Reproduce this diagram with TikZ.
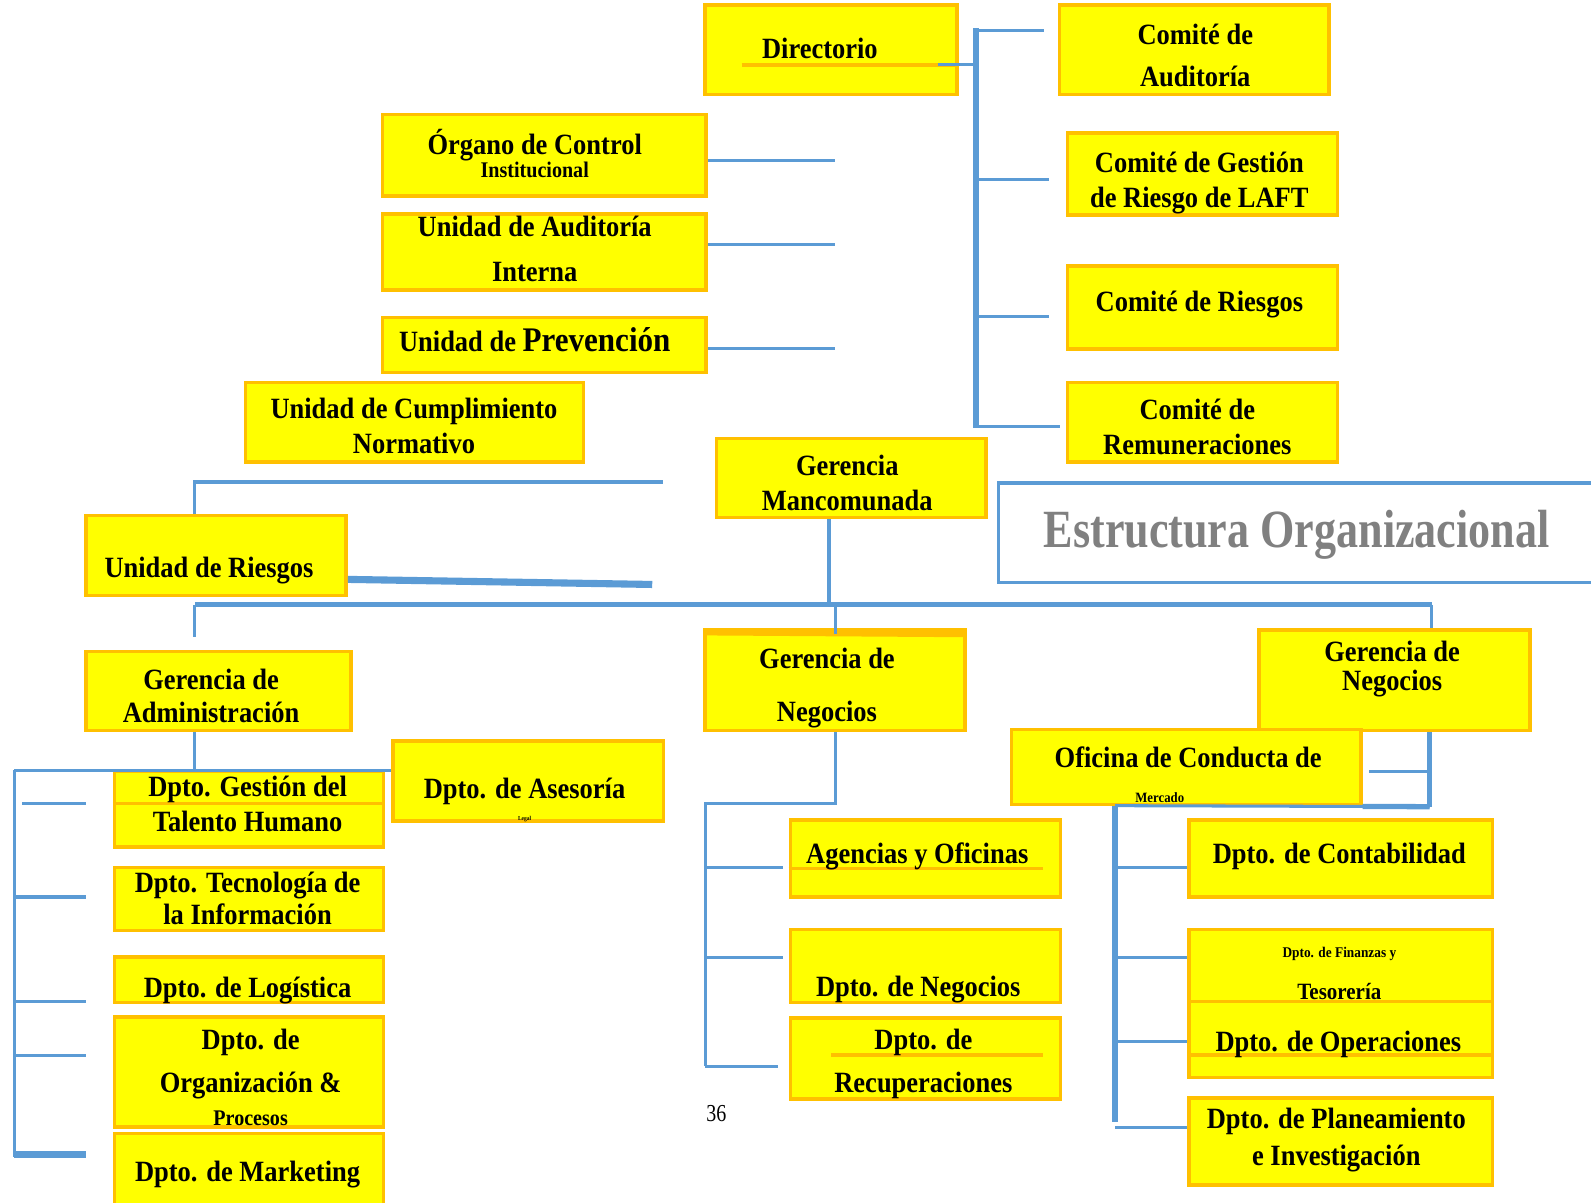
\documentclass[tikz,border=0pt]{standalone}
\usepackage{fontspec}
\setmainfont{Liberation Serif}[FakeStretch=0.9]
\newfontfamily\titulofont{Liberation Serif}[FakeStretch=0.82]
\usetikzlibrary{fit}
\definecolor{amarillo}{HTML}{FFFF00}
\definecolor{naranja}{HTML}{FFC000}
\definecolor{azul}{HTML}{5B9BD5}

\begin{document}
\begin{tikzpicture}[x=0.5pt,y=-0.5pt]
  \tikzstyle{caja}=[draw=naranja,fill=amarillo,line width=1.8pt,inner sep=0pt]
  \tikzstyle{texto}=[font=\bfseries\fontsize{14.5}{17}\selectfont,align=center,inner sep=0pt,yshift=-1.6pt,
    execute at begin node=\strut,execute at end node=\strut]
  \tikzstyle{chico}=[texto,font=\bfseries\fontsize{11}{13}\selectfont]
  \tikzstyle{linea}=[draw=azul,line width=1.5pt]
  \tikzstyle{gruesa}=[linea,line width=2.6pt]
  \useasboundingbox (0,0) rectangle (1568,1185);

  % cajas de arriba
  \node[caja,fit={(695,5) (943,93)}]      (dir)   {};
  \node[caja,fit={(1044,5) (1310,93)}]    (caud)  {};
  \node[caja,fit={(1052,131) (1318,212)}] (claft) {};
  \node[caja,fit={(1052,262) (1318,344)}] (cries) {};
  \node[caja,fit={(1052,377) (1318,455)}] (crem)  {};
  \node[caja,fit={(377,113) (696,193)}]   (oci)   {};
  \node[caja,fit={(377,211) (696,286)}]   (uai)   {};
  \node[caja,fit={(377,313) (696,367)}]   (uprev) {};
  \node[caja,fit={(242,377) (575,455)}]   (ucn)   {};
  \node[caja,fit={(706,432) (972,510)}]   (gman)  {};
  \node[caja,fit={(85,508) (341,587)}]    (uries) {};
  \node[draw=azul,line width=1.5pt,inner sep=0pt,fit={(984,476) (1600,574)}] (estr) {};

  % cajas de abajo
  \node[caja,fit={(85,642) (346,720)}]     (gadm)  {};
  \node[caja,fit={(113,760) (378,835)}]    (dgth)  {};
  \node[caja,fit={(387,730) (654,809)}]    (dase)  {};
  \node[caja,fit={(113,855) (378,917)}]    (dti)   {};
  \node[caja,fit={(113,943) (378,988)}]    (dlog)  {};
  \node[caja,fit={(113,1002) (378,1111)}]  (dorg)  {};
  \node[caja,fit={(113,1117) (378,1230)}]  (dmkt)  {};
  \node[caja,fit={(695,621) (951,720)}]    (gneg)  {};
  \node[caja,fit={(779,808) (1045,884)}]   (agen)  {};
  \node[caja,fit={(779,916) (1045,988)}]   (dneg)  {};
  \node[caja,fit={(779,1003) (1045,1083)}] (drec)  {};
  \node[caja,fit={(1241,621) (1508,720)}]  (gneg2) {};
  \node[caja,fit={(997,719) (1341,793)}]   (ofcm)  {};
  \node[caja,fit={(1172,808) (1471,884)}]  (dcont) {};
  \node[caja,fit={(1172,916) (1471,987)}]  (dfin)  {};
  \node[caja,fit={(1172,987) (1471,1062)}] (dope)  {};
  \node[caja,fit={(1172,1082) (1471,1168)}] (dplan) {};

  % rayas naranjas dentro de las cajas
  \draw[naranja,line width=1.8pt] (731,64) -- (dir.east |- 0,64);
  \draw[naranja,line width=1.8pt] (dgth.west |- 0,792) -- (dgth.east |- 0,792);
  \draw[naranja,line width=1.8pt] (agen.west |- 0,856) -- (1028,856);
  \draw[naranja,line width=1.8pt] (819,1040) -- (1028,1040);
  \draw[naranja,line width=1.8pt] (dope.west |- 0,1040) -- (dope.east |- 0,1040);
  \draw[naranja,line width=3.5pt] (gneg.north west) ++(0,3.5) -- (gneg.east |- 0,624.5);

  % textos
  \node[texto] (dir-t)   at (808,48)    {Directorio};
  \node[texto] (caud-t)  at (1178,56.5) {Comité de\\[3.5pt]Auditoría};
  \node[texto] (claft-t) at (1182,179)  {Comité de Gestión\\de Riesgo de LAFT};
  \node[texto] (cries-t) at (1182,297)  {Comité de Riesgos};
  \node[texto] (crem-t)  at (1180,422.5) {Comité de\\[0.5pt]Remuneraciones};
  \node[texto] (oci-t)   at (527,142)   {Órgano de Control};
  \node[chico] (oci-t2)  at (527,167)   {Institucional};
  \node[texto] (uai-t)   at (527,247)   {Unidad de Auditoría\\[5pt]Interna};
  \node[texto] (uprev-t) at (527,336)   {Unidad de {\fontsize{17}{20}\selectfont Prevención}};
  \node[texto] (ucn-t)   at (408,421.5) {Unidad de Cumplimiento\\[0.5pt]Normativo};
  \node[texto] (gman-t)  at (835,477.5) {Gerencia\\[0.5pt]Mancomunada};
  \node[texto] (uries-t) at (206,559)   {Unidad de Riesgos};
  \node[font=\titulofont\bfseries\fontsize{26.5}{30}\selectfont,text=black!50] (estr-t) at (1278,527) {Estructura Organizacional};
  \node[texto] (gadm-t)  at (208,687.5) {Gerencia de\\[-0.5pt]Administración};
  \node[texto] (gneg-t)  at (815,677)   {Gerencia de\\[9pt]Negocios};
  \node[texto] (gneg2-t) at (1372,658)  {Gerencia de\\[-3pt]Negocios};
  \node[texto] (ofcm-t)  at (1171,746)  {Oficina de Conducta de};
  \node[texto,font=\bfseries\fontsize{7}{8}\selectfont] (ofcm-t2) at (1143,784) {Mercado};
  \node[texto] (dase-t)  at (517,777)   {Dpto. de Asesoría};
  \node[texto,font=\bfseries\fontsize{3}{4}\selectfont] (dase-t2) at (517,804) {Legal};
  \node[texto] (dgth-t)  at (244,794)   {Dpto. Gestión del\\Talento Humano};
  \node[texto] (dti-t)   at (244,887)   {Dpto. Tecnología de\\[-1pt]la Información};
  \node[texto] (dlog-t)  at (244,973)   {Dpto. de Logística};
  \node[texto] (dorg-t)  at (247,1047.5) {Dpto. de\\[4.5pt]Organización \&};
  \node[chico] (dorg-t2) at (247,1101)  {Procesos};
  \node[texto] (dmkt-t)  at (244,1154)  {Dpto. de Marketing};
  \node[texto] (agen-t)  at (904,841)   {Agencias y Oficinas};
  \node[texto] (dneg-t)  at (905,972)   {Dpto. de Negocios};
  \node[texto] (drec-t)  at (910,1047.5) {Dpto. de\\[4.5pt]Recuperaciones};
  \node[texto] (dcont-t) at (1320,841)  {Dpto. de Contabilidad};
  \node[texto,font=\bfseries\fontsize{7.3}{9}\selectfont] (dfin-t) at (1320,937) {Dpto. de Finanzas y};
  \node[texto,font=\bfseries\fontsize{11.5}{13}\selectfont] (dfin-t2) at (1320,977) {Tesorería};
  \node[texto] (dope-t)  at (1319,1026) {Dpto. de Operaciones};
  \node[texto] (dplan-t) at (1317,1122) {Dpto. de Planeamiento\\[1pt]e Investigación};
  \node[font=\titulofont\fontsize{12}{14}\selectfont] (pag) at (706,1097) {36};

  % directorio y comites
  \coordinate (dirV) at (962,28);
  \draw[linea] (924,64) -- (dirV |- 0,64);
  \draw[gruesa] (dirV) -- +(0,394);
  \draw[linea] (dirV |- 0,30) -- +(67,0);
  \draw[linea] (dirV |- 0,177) -- +(72,0);
  \draw[linea] (dirV |- 0,312) -- +(72,0);
  \draw[linea] (dirV |- 0,420) -- +(83,0);

  % organos de control
  \draw[linea] (oci.east |- 0,158) -- +(125,0);
  \draw[linea] (uai.east |- 0,241) -- +(125,0);
  \draw[linea] (uprev.east |- 0,343) -- +(125,0);

  % unidad de riesgos
  \coordinate (ur) at (192,475);
  \draw[linea] (uries.north -| ur) -- (ur) -- +(461,0);
  \draw[azul,line width=3.5pt] (uries.east |- 0,571) -- +(300,5);

  % barra de gerencias
  \coordinate (busL) at (192,596);
  \coordinate (busR) at (1411,596);
  \coordinate (gm) at (817,596);
  \draw[linea,line width=2pt] (gm |- gman.south) -- (gm);
  \draw[gruesa] (busL) -- (busR);
  \draw[linea] (busL) -- +(0,32);
  \draw[linea] (gneg.north |- busL) -- ([yshift=-3pt]gneg.north);
  \draw[linea] (busR) -- (busR |- gneg2.north);

  % gerencia de administracion
  \coordinate (ga) at (14,759);
  \draw[linea] (busL |- gadm.south) -- (busL |- ga);
  \draw[linea] (ga) -- (dase.west |- ga);
  \draw[linea] (ga) -- +(0,381);
  \draw[linea] (22,792) -- +(63,0);
  \foreach \y in {884,987,1040}
    \draw[linea] (ga |- 0,\y) -- +(71,0);
  \draw[azul,line width=3.5pt] (ga |- 0,1138) -- +(71,0);

  % gerencia de negocios
  \coordinate (gn) at (695,792);
  \draw[linea] (gneg.south) -- (gneg.south |- gn) -- (gn) -- +(0,259);
  \draw[linea] (gn |- 0,855) -- +(77,0);
  \draw[linea] (gn |- 0,944) -- +(77,0);
  \draw[linea] (gn |- 0,1051) -- +(72,0);

  % gerencia de negocios derecha y oficina
  \coordinate (gr) at (1409,795);
  \coordinate (of) at (1099,794);
  \draw[gruesa] (gr |- gneg2.south) -- (gr);
  \draw[linea] (gr |- 0,760) -- +(-60,0);
  \draw[linea] (of) -- (gr);
  \draw[gruesa] (ofcm.south east) -- (gr);
  \draw[gruesa] (of) -- +(0,312);
  \foreach \y in {855,944,1026,1111}
    \draw[linea] (of |- 0,\y) -- (dcont.west |- 0,\y);
\end{tikzpicture}
\end{document}
